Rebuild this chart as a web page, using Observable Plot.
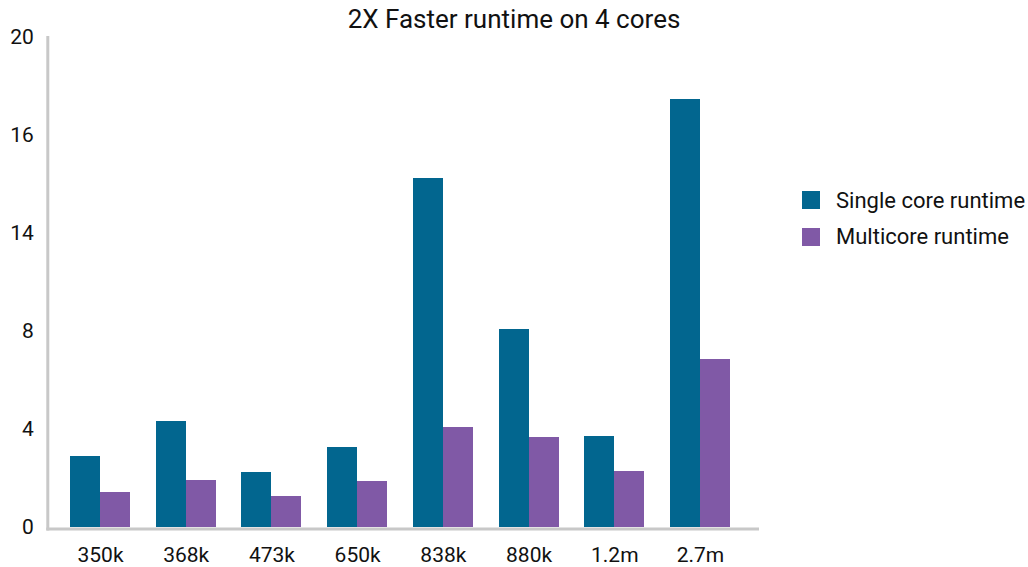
<!DOCTYPE html>
<html>
<head>
<meta charset="utf-8">
<script src="https://cdn.jsdelivr.net/npm/d3@7"></script>
<script src="https://cdn.jsdelivr.net/npm/@observablehq/plot@0.6"></script>
<style>
  html, body { margin: 0; padding: 0; background: #fff; }
  #wrap { position: relative; width: 1028px; height: 567px; font-family: Roboto, sans-serif; color: #111; }
  #wrap svg { position: absolute; left: 0; top: 0; }
  #title { position: absolute; left: 0; width: 1028px; top: 4px; text-align: center; font-size: 26px; color: #111; }
  .leg { position: absolute; left: 802px; display: flex; align-items: center; font-size: 22px; color: #111; white-space: nowrap; }
  .leg span.sw { display: inline-block; width: 18px; height: 18px; margin-right: 16px; }
</style>
</head>
<body>
<div id="wrap">
  <div id="title">2X Faster runtime on 4 cores</div>
</div>
<script>
const categories = ["350k", "368k", "473k", "650k", "838k", "880k", "1.2m", "2.7m"];
const singleCore = [2.90, 4.33, 2.24, 3.27, 14.24, 8.08, 3.71, 17.47];
const multiCore  = [1.43, 1.92, 1.27, 1.88, 4.08, 3.67, 2.29, 6.86];
const seriesNames = ["Single core runtime", "Multicore runtime"];
const seriesColors = ["#02668f", "#8059a6"];
const yTicks = [0, 4, 8, 12, 16, 20];
const yTickLabels = ["0", "4", "8", "14", "16", "20"];

const singleData = categories.map((c, i) => ({cat: c, value: singleCore[i]}));
const multiData = categories.map((c, i) => ({cat: c, value: multiCore[i]}));

const x0 = 400 / 7, x1 = 5200 / 7;
const bw = (x1 - x0) / categories.length;
const barW = 30;
const half = bw / 2;

const chart = Plot.plot({
  width: 1028,
  height: 567,
  marginLeft: 47.3,
  marginRight: 271,
  marginTop: 37,
  marginBottom: 38.5,
  style: {fontFamily: "Roboto, sans-serif", fontSize: "21px", color: "#111", background: "transparent"},
  x: {domain: categories, range: [x0, x1], padding: 0, round: false},
  y: {domain: [0, 20], range: [527, 37]},
  marks: [
    Plot.barY(singleData, {x: "cat", y: "value", fill: seriesColors[0], insetLeft: half - barW, insetRight: half, shapeRendering: "crispEdges"}),
    Plot.barY(multiData, {x: "cat", y: "value", fill: seriesColors[1], insetLeft: half, insetRight: half - barW, shapeRendering: "crispEdges"}),
    Plot.frame({anchor: "left", stroke: "#c8c8c8", strokeWidth: 3, strokeOpacity: 1}),
    Plot.frame({anchor: "bottom", stroke: "#c8c8c8", strokeWidth: 3, strokeOpacity: 1}),
    Plot.axisY({ticks: yTicks, tickSize: 0, tickPadding: 14, tickFormat: (d) => yTickLabels[yTicks.indexOf(d)], fontSize: 21, label: null}),
    Plot.axisX({tickSize: 0, tickPadding: 18.5, fontSize: 21, label: null})
  ]
});

const wrap = document.getElementById("wrap");
wrap.insertBefore(chart, wrap.firstChild);

const legTops = [200, 236.5];
seriesNames.forEach((name, i) => {
  const d = document.createElement("div");
  d.className = "leg";
  d.style.top = (legTops[i] - 15) + "px";
  d.style.height = "30px";
  const sw = document.createElement("span");
  sw.className = "sw";
  sw.style.background = seriesColors[i];
  d.appendChild(sw);
  d.appendChild(document.createTextNode(name));
  wrap.appendChild(d);
});
</script>
</body>
</html>
